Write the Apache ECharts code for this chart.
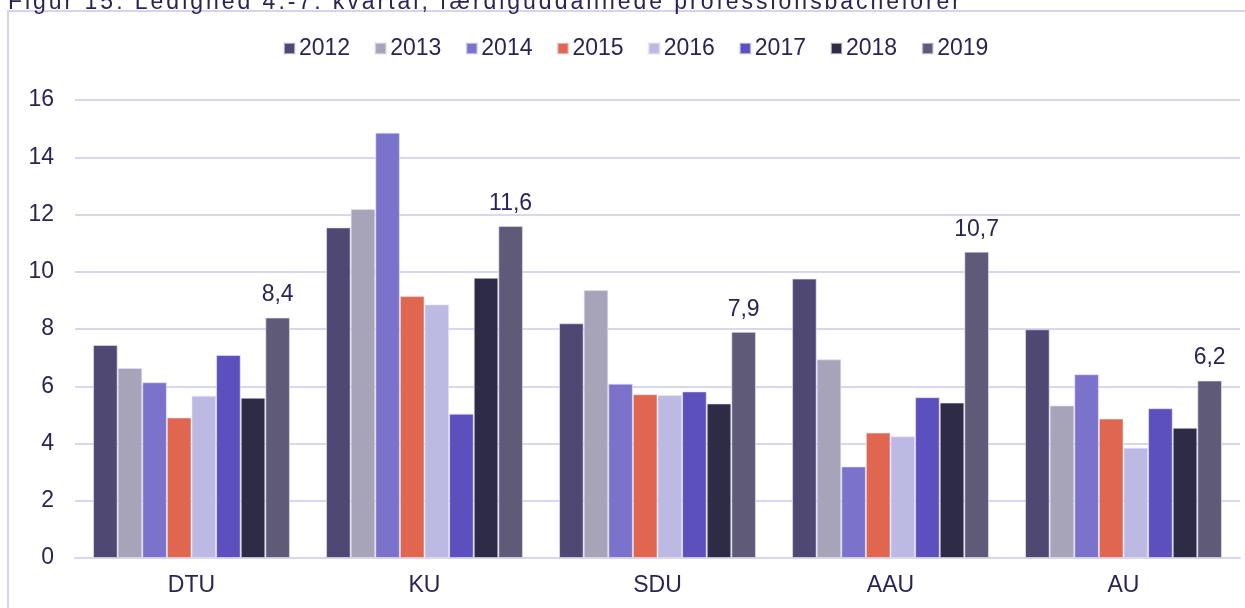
<!DOCTYPE html>
<html>
<head>
<meta charset="utf-8">
<script src="https://cdn.jsdelivr.net/npm/echarts@6/dist/echarts.min.js"></script>
<style>
html,body{margin:0;padding:0;background:#ffffff;}
#chart{width:1245px;height:608px;}
</style>
</head>
<body>
<div id="chart"></div>
<script>
const titleText = "Figur 15: Ledighed 4.-7. kvartal, færdiguddannede professionsbachelorer";
const categories = ["DTU", "KU", "SDU", "AAU", "AU"];
const years = ["2012", "2013", "2014", "2015", "2016", "2017", "2018", "2019"];
const v2012 = [7.44, 11.55, 8.2, 9.76, 7.99];
const v2013 = [6.64, 12.19, 9.36, 6.94, 5.33];
const v2014 = [6.14, 14.86, 6.09, 3.20, 6.42];
const v2015 = [4.91, 9.15, 5.72, 4.38, 4.87];
const v2016 = [5.67, 8.86, 5.69, 4.25, 3.85];
const v2017 = [7.09, 5.04, 5.82, 5.62, 5.23];
const v2018 = [5.60, 9.79, 5.40, 5.43, 4.55];
const v2019 = [8.4, 11.6, 7.9, 10.7, 6.2];
const yTicks = [0, 2, 4, 6, 8, 10, 12, 14, 16];

const seriesValues = [v2012, v2013, v2014, v2015, v2016, v2017, v2018, v2019];
const colors = ["#4e4873", "#a7a3b9", "#7b73cb", "#e06650", "#bcb9e3", "#5b50bd", "#2e2b47", "#5f5a78"];
const textColor = "#2a2456";
const font = "'Liberation Sans', Arial, sans-serif";
const fs = 23;

// Title with letter spacing: per-character text positions
const tFontSize = 23;
const cvs = document.createElement("canvas").getContext("2d");
cvs.font = tFontSize + "px 'Liberation Sans'";
const chars = Array.from(titleText);
const natW = chars.reduce((s, c) => s + cvs.measureText(c).width, 0);
const targetLeft = 8, targetRight = 960;
const spacing = (targetRight - targetLeft - natW) / (chars.length - 1);
const titleEls = [];
let cx = targetLeft;
chars.forEach(c => {
  titleEls.push({
    type: "text", x: cx, y: 14, silent: true,
    style: { text: c, font: tFontSize + "px 'Liberation Sans'", fill: textColor, textVerticalAlign: "bottom", verticalAlign: "bottom" }
  });
  cx += cvs.measureText(c).width + spacing;
});

const chart = echarts.init(document.getElementById("chart"), null, { renderer: "canvas" });
const series = years.map((y, i) => ({
  name: y,
  type: "bar",
  data: seriesValues[i],
  barGap: "0%",
  barCategoryGap: "15.5%",
  itemStyle: { color: colors[i], borderColor: "rgba(230,228,245,0.6)", borderWidth: 1 },
  label: i === years.length - 1 ? {
    show: true, position: "top", distance: 11,
    color: textColor, fontSize: fs, fontFamily: font,
    formatter: p => String(p.value).replace(".", ",")
  } : { show: false },
  z: 3
}));

chart.setOption({
  animation: false,
  backgroundColor: "#ffffff",
  textStyle: { fontFamily: font },
  graphic: [
    { type: "rect", shape: { x: 8, y: 11, width: 1400, height: 800 }, style: { fill: "none", stroke: "#d6d3ef", lineWidth: 2 }, silent: true, z: -1 }
  ].concat(titleEls),
  legend: {
    data: years,
    left: 283, top: 37,
    icon: "rect", itemWidth: 11, itemHeight: 11, itemGap: 24,
    padding: 0,
    textStyle: { color: textColor, fontSize: fs, fontFamily: font, padding: [0, 0, 0, -1] }
  },
  grid: { left: 75, right: 5, top: 100, bottom: 50, containLabel: false },
  xAxis: {
    type: "category", data: categories,
    axisLine: { show: true, lineStyle: { color: "#d9d6f1", width: 2 } },
    axisTick: { show: false },
    axisLabel: { color: textColor, fontSize: fs, fontFamily: font, margin: 16 }
  },
  yAxis: {
    type: "value", min: yTicks[0], max: yTicks[yTicks.length - 1], interval: 2,
    axisLine: { show: false }, axisTick: { show: false },
    axisLabel: { color: textColor, fontSize: fs, fontFamily: font, margin: 21 },
    splitLine: { lineStyle: { color: "#d9d6f1", width: 2 } }
  },
  series: series
});
</script>
</body>
</html>
